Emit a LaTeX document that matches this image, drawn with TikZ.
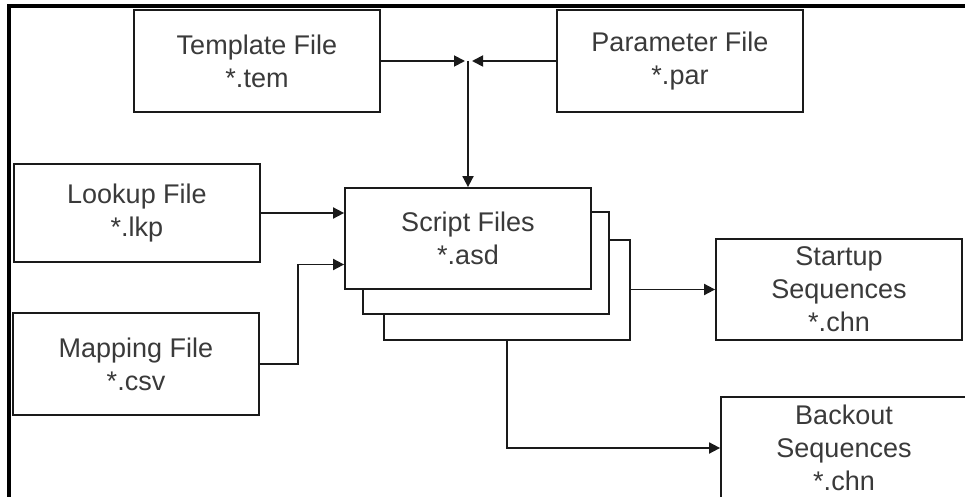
\documentclass[tikz,border=0pt]{standalone}
\usepackage{fontspec}
\setmainfont{Liberation Sans}
\usetikzlibrary{arrows.meta}
\definecolor{FileLine}{HTML}{1A1A1A}
\definecolor{FileText}{HTML}{3A3A3A}

\begin{document}
\begin{tikzpicture}[x=1pt,y=-1pt,
    filebox/.style={draw=FileLine,line width=1.8pt,fill=white,minimum width=246pt,minimum height=102pt,
      inner sep=0pt,align=center,text=FileText,font=\fontsize{27}{33}\selectfont},
    flow/.style={draw=FileLine,line width=1.8pt,-{Triangle[length=11pt,width=11pt]}}]
  \clip (0,0) rectangle (965,497);
  \draw[line width=3.5pt] (9,497) -- (9,6) -- (965,6);
  \node[filebox] (tem) at (257,61) {Template File\\*.tem};
  \node[filebox] (par) at (680,61) {Parameter File\\*.par};
  \node[filebox,minimum height=98pt] (lkp) at (137,213) {Lookup File\\*.lkp};
  \node[filebox] (csv) at (136,364) {Mapping File\\*.csv};
  \node[filebox,minimum height=100pt] (asd3) at (507,290) {};
  \node[filebox] (asd2) at (486,263) {};
  \node[filebox,minimum height=101pt] (asd) at (468,238.5) {Script Files\\*.asd};
  \node[filebox,minimum height=101pt] (chn1) at (839,289.5) {Startup\\Sequences\\*.chn};
  \node[filebox] (chn2) at (844,448) {Backout\\Sequences\\*.chn};
  \coordinate (join) at (468,61);
  \draw[flow] (tem) -- ([xshift=-3pt]join);
  \draw[flow] (par) -- ([xshift=4pt]join);
  \draw[flow] (join) -- (asd);
  \draw[flow] (lkp) -- (lkp -| asd.west);
  \draw[flow] (csv.east) -- ++(38,0) |- ([yshift=-26pt]asd.west);
  \draw[flow] (asd3.east |- chn1) -- (chn1);
  \draw[flow] (asd3.south) |- (chn2);
\end{tikzpicture}
\end{document}
